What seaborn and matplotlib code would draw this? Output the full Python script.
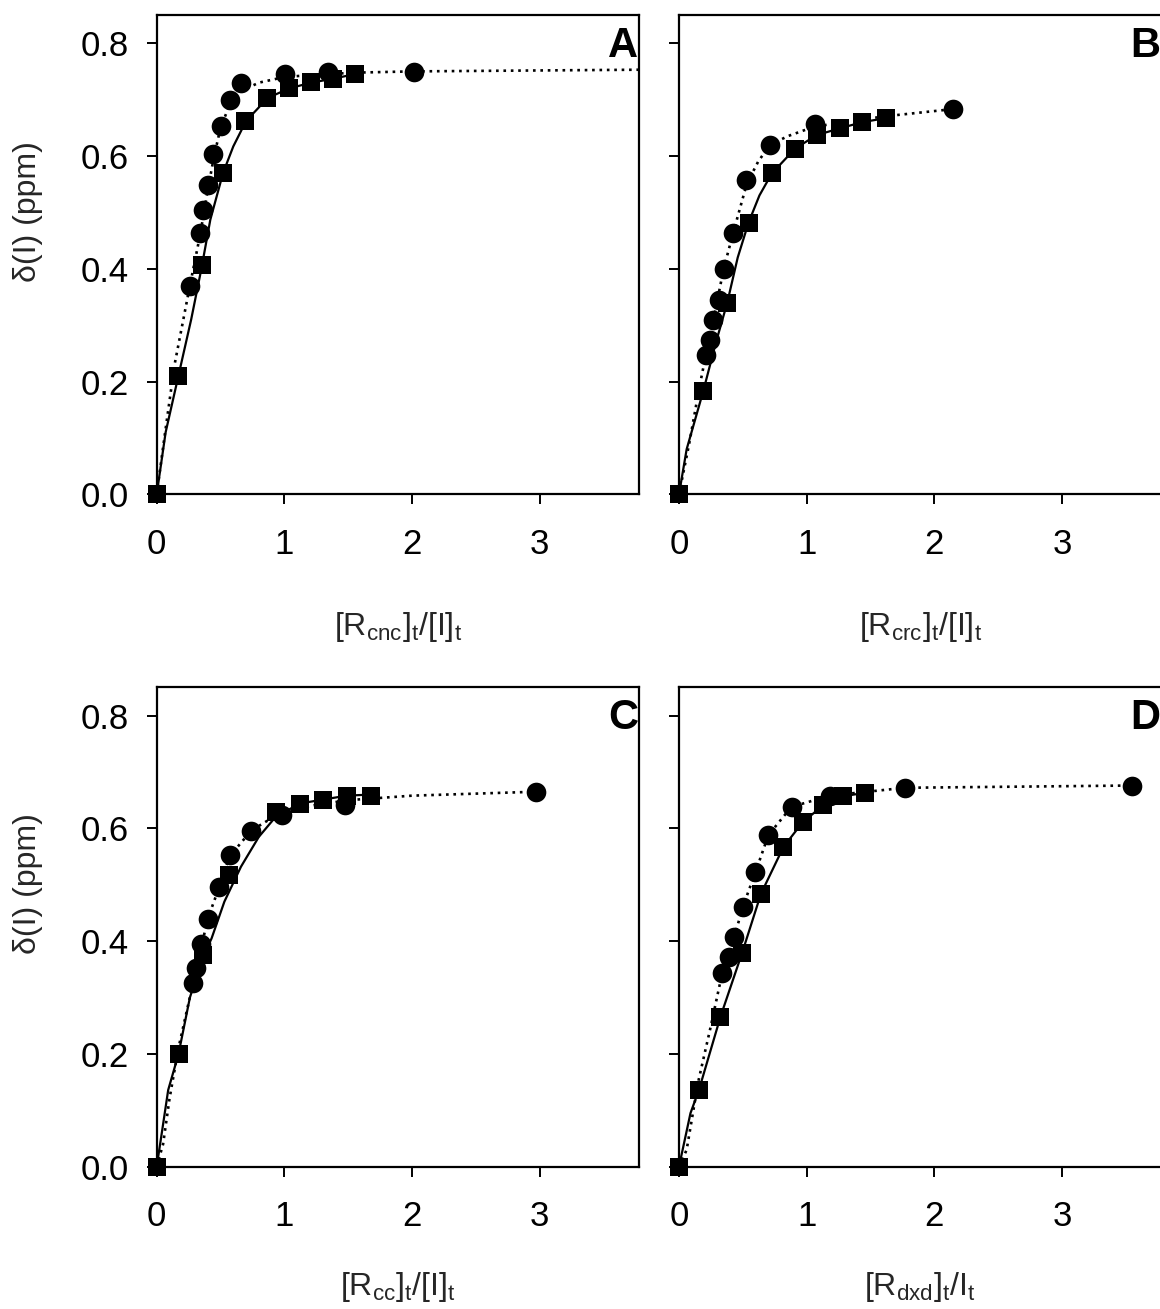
import matplotlib
matplotlib.use("Agg")
import matplotlib.pyplot as plt
import seaborn as sns
import pandas as pd

sns.set_theme(style="ticks")
plt.rcParams["font.family"] = ["Liberation Sans", "DejaVu Sans"]
plt.rcParams["mathtext.fontset"] = "custom"
plt.rcParams["mathtext.rm"] = "Liberation Sans"
plt.rcParams["mathtext.it"] = "Liberation Sans"
plt.rcParams["mathtext.bf"] = "Liberation Sans:bold"
plt.rcParams["mathtext.default"] = "regular"

# ---------------- data ----------------
# Panel A
a_sq_x = [0.0, 0.169, 0.352, 0.521, 0.695, 0.867, 1.04, 1.21, 1.38, 1.55]
a_sq_y = [0.0, 0.210, 0.407, 0.570, 0.662, 0.703, 0.721, 0.731, 0.736, 0.745]
a_ci_x = [0.26, 0.339, 0.365, 0.404, 0.443, 0.503, 0.573, 0.664, 1.003, 1.341, 2.013]
a_ci_y = [0.369, 0.463, 0.505, 0.549, 0.603, 0.653, 0.700, 0.729, 0.745, 0.749, 0.749]
a_fit_sq_x = [0, 0.07, 0.17, 0.27, 0.35, 0.42, 0.52, 0.60, 0.70, 0.87, 1.04, 1.21, 1.38, 1.55]
a_fit_sq_y = [0, 0.11, 0.21, 0.31, 0.40, 0.487, 0.57, 0.617, 0.662, 0.703, 0.72, 0.73, 0.737, 0.745]
a_fit_ci_x = [0, 0.06, 0.14, 0.26, 0.34, 0.40, 0.45, 0.50, 0.57, 0.66, 0.80, 1.0, 1.3, 1.6, 2.0, 3.8]
a_fit_ci_y = [0, 0.10, 0.23, 0.37, 0.46, 0.54, 0.60, 0.65, 0.69, 0.715, 0.73, 0.74, 0.745, 0.748, 0.75, 0.753]

# Panel B
b_sq_x = [0.0, 0.19, 0.377, 0.545, 0.727, 0.909, 1.078, 1.26, 1.436, 1.618]
b_sq_y = [0.0, 0.183, 0.339, 0.482, 0.569, 0.613, 0.637, 0.649, 0.660, 0.667]
b_ci_x = [0.208, 0.242, 0.268, 0.312, 0.351, 0.423, 0.527, 0.714, 1.065, 2.143]
b_ci_y = [0.247, 0.274, 0.309, 0.345, 0.400, 0.463, 0.557, 0.619, 0.656, 0.683]
b_fit_sq_x = [0, 0.06, 0.19, 0.29, 0.377, 0.46, 0.545, 0.63, 0.727, 0.909, 1.078, 1.26, 1.436, 1.618]
b_fit_sq_y = [0, 0.08, 0.183, 0.27, 0.339, 0.42, 0.482, 0.53, 0.569, 0.613, 0.637, 0.649, 0.66, 0.667]
b_fit_ci_x = [0, 0.08, 0.16, 0.21, 0.27, 0.35, 0.42, 0.53, 0.62, 0.71, 0.85, 1.06, 1.3, 1.6, 2.14]
b_fit_ci_y = [0, 0.09, 0.19, 0.247, 0.31, 0.40, 0.46, 0.55, 0.59, 0.619, 0.635, 0.652, 0.66, 0.67, 0.683]

# Panel C
c_sq_x = [0.0, 0.171, 0.362, 0.564, 0.938, 1.122, 1.305, 1.488, 1.679]
c_sq_y = [0.0, 0.200, 0.375, 0.517, 0.629, 0.644, 0.651, 0.658, 0.658]
c_ci_x = [0.284, 0.31, 0.35, 0.402, 0.486, 0.572, 0.742, 0.978, 1.475, 2.967]
c_ci_y = [0.325, 0.352, 0.395, 0.440, 0.496, 0.552, 0.596, 0.623, 0.641, 0.665]
c_fit_sq_x = [0, 0.04, 0.09, 0.171, 0.26, 0.36, 0.43, 0.53, 0.66, 0.80, 0.93, 1.12, 1.30, 1.49, 1.68]
c_fit_sq_y = [0, 0.06, 0.136, 0.20, 0.30, 0.37, 0.405, 0.47, 0.532, 0.585, 0.62, 0.644, 0.651, 0.658, 0.66]
c_fit_ci_x = [0, 0.05, 0.10, 0.17, 0.284, 0.35, 0.40, 0.49, 0.57, 0.74, 0.95, 1.2, 1.5, 2.0, 2.97]
c_fit_ci_y = [0, 0.04, 0.12, 0.21, 0.325, 0.39, 0.44, 0.496, 0.55, 0.596, 0.625, 0.64, 0.65, 0.658, 0.665]

# Panel D
d_sq_x = [0.0, 0.156, 0.325, 0.494, 0.642, 0.818, 0.969, 1.13, 1.286, 1.455]
d_sq_y = [0.0, 0.136, 0.266, 0.379, 0.484, 0.567, 0.611, 0.641, 0.657, 0.663]
d_ci_x = [0.338, 0.39, 0.434, 0.501, 0.597, 0.701, 0.883, 1.182, 1.774, 3.545]
d_ci_y = [0.343, 0.372, 0.408, 0.461, 0.523, 0.588, 0.638, 0.658, 0.672, 0.676]
d_fit_sq_x = [0, 0.09, 0.156, 0.325, 0.494, 0.642, 0.818, 0.969, 1.13, 1.286, 1.455]
d_fit_sq_y = [0, 0.095, 0.136, 0.266, 0.379, 0.484, 0.567, 0.611, 0.641, 0.657, 0.663]
d_fit_ci_x = [0, 0.06, 0.15, 0.25, 0.338, 0.39, 0.434, 0.50, 0.60, 0.70, 0.88, 1.18, 1.77, 3.55]
d_fit_ci_y = [0, 0.03, 0.15, 0.25, 0.343, 0.372, 0.408, 0.461, 0.523, 0.588, 0.638, 0.658, 0.672, 0.676]

panel_letters = ["A", "B", "C", "D"]
x_labels = [
    r"[R$_{cnc}$]$_{t}$/[I]$_{t}$",
    r"[R$_{crc}$]$_{t}$/[I]$_{t}$",
    r"[R$_{cc}$]$_{t}$/[I]$_{t}$",
    r"[R$_{dxd}$]$_{t}$/I$_{t}$",
]
y_label = "δ(I) (ppm)"
x_ticks = [0, 1, 2, 3]
y_ticks = [0.0, 0.2, 0.4, 0.6, 0.8]

panels = [
    (a_sq_x, a_sq_y, a_ci_x, a_ci_y, a_fit_sq_x, a_fit_sq_y, a_fit_ci_x, a_fit_ci_y),
    (b_sq_x, b_sq_y, b_ci_x, b_ci_y, b_fit_sq_x, b_fit_sq_y, b_fit_ci_x, b_fit_ci_y),
    (c_sq_x, c_sq_y, c_ci_x, c_ci_y, c_fit_sq_x, c_fit_sq_y, c_fit_ci_x, c_fit_ci_y),
    (d_sq_x, d_sq_y, d_ci_x, d_ci_y, d_fit_sq_x, d_fit_sq_y, d_fit_ci_x, d_fit_ci_y),
]

# ---------------- layout ----------------
W, H = 1160, 1309
fig = plt.figure(figsize=(W / 100, H / 100), dpi=100)
ax_w = 482.6 / W
ax_h = 479.3 / H
lefts = [156.7 / W, 679.0 / W, 156.7 / W, 679.0 / W]
bottoms = [(H - 494.3) / H, (H - 494.3) / H, (H - 1166.7) / H, (H - 1166.7) / H]
xlabel_y = [-(610 - 494.3) / 479.3, -(610 - 494.3) / 479.3,
            -(1270 - 1166.7) / 479.3, -(1270 - 1166.7) / 479.3]

for i, (sx, sy, cx, cy, fsx, fsy, fcx, fcy) in enumerate(panels):
    ax = fig.add_axes([lefts[i], bottoms[i], ax_w, ax_h])
    ax.set_facecolor("white")

    sns.lineplot(x=fsx, y=fsy, ax=ax, color="black", lw=1.6, sort=False,
                 estimator=None, zorder=2)
    sns.lineplot(x=fcx, y=fcy, ax=ax, color="black", lw=1.9, sort=False,
                 estimator=None, linestyle=(0, (1, 1.8)), zorder=2)
    sns.scatterplot(x=cx, y=cy, ax=ax, marker="o", s=200, color="black",
                    edgecolor="black", linewidth=0, zorder=3, clip_on=False)
    sns.scatterplot(x=sx, y=sy, ax=ax, marker="s", s=160, color="black",
                    edgecolor="black", linewidth=0, zorder=4, clip_on=False)

    ax.set_xlim(0, 3.78)
    ax.set_ylim(0, 0.85)
    ax.set_xticks(x_ticks)
    ax.set_xticklabels([str(t) for t in x_ticks])
    ax.set_yticks(y_ticks)
    if i % 2 == 0:
        ax.set_yticklabels([f"{t:.1f}" for t in y_ticks])
        ax.set_ylabel(y_label, fontsize=23, va="center")
        ax.yaxis.set_label_coords((28 - 156.7) / 482.6, 0.59)
    else:
        ax.set_yticklabels([])
        ax.set_ylabel("")

    ax.tick_params(axis="both", direction="out", length=7.2, width=1.4,
                   color="black", labelsize=25, labelcolor="black")
    ax.tick_params(axis="x", pad=17)
    ax.tick_params(axis="y", pad=13)
    for sp in ax.spines.values():
        sp.set_visible(True)
        sp.set_color("black")
        sp.set_linewidth(1.6)

    ax.set_xlabel(x_labels[i], fontsize=23, va="top")
    ax.xaxis.set_label_coords(0.5, xlabel_y[i])

    ax.text(0.997, 0.978, panel_letters[i], transform=ax.transAxes,
            ha="right", va="top", fontsize=30, fontweight="bold", color="black")

fig.savefig("out.png", dpi=100, facecolor="white")
